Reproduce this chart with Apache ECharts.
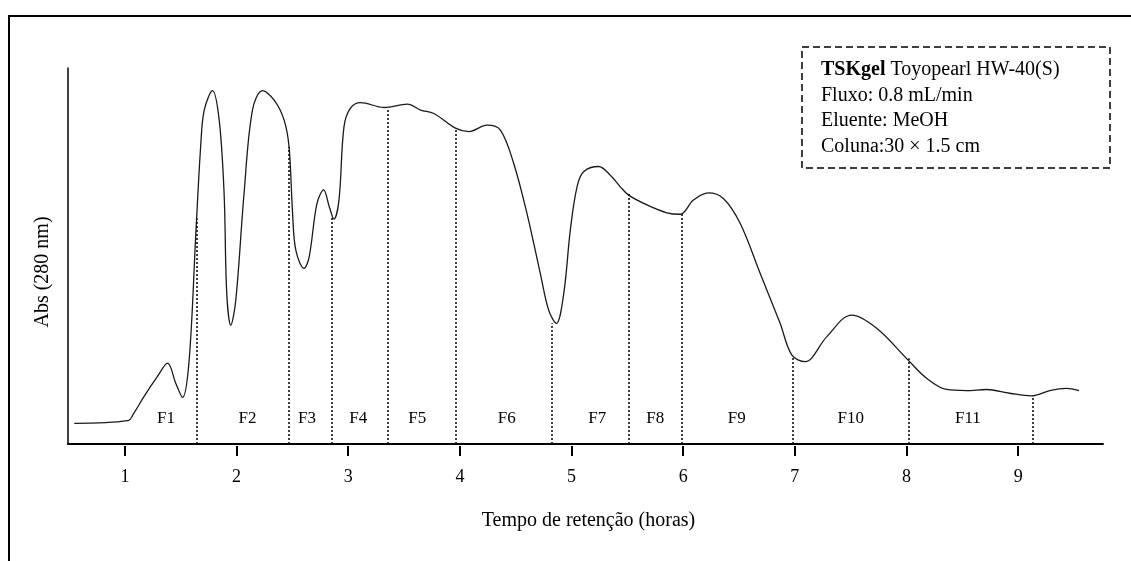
<!DOCTYPE html>
<html>
<head>
<meta charset="utf-8">
<script src="https://cdn.jsdelivr.net/npm/echarts@6/dist/echarts.min.js"></script>
<style>html,body{margin:0;padding:0;background:#fff}#c{width:1131px;height:561px}</style>
</head>
<body>
<div id="c"></div>
<script>
// Chromatogram trace (retention time in hours, absorbance in relative units)
const timeH = [0.546, 1.026, 1.08, 1.17, 1.29, 1.382, 1.456, 1.516, 1.575, 1.635, 1.68, 1.71, 1.784, 1.844, 1.888, 1.912, 1.948, 1.993, 2.067, 2.142, 2.232, 2.335, 2.425, 2.47, 2.5, 2.53, 2.604, 2.65, 2.72, 2.78, 2.83, 2.872, 2.917, 2.962, 3.02, 3.11, 3.32, 3.53, 3.648, 3.767, 3.96, 4.08, 4.244, 4.363, 4.482, 4.60, 4.72, 4.795, 4.864, 4.93, 4.989, 5.049, 5.108, 5.243, 5.347, 5.437, 5.511, 5.675, 5.854, 5.973, 6.092, 6.226, 6.36, 6.51, 6.689, 6.868, 6.972, 7.091, 7.285, 7.509, 7.733, 8.015, 8.18, 8.359, 8.538, 8.717, 8.925, 9.119, 9.283, 9.432, 9.545];
const absorb = [5.5, 6.2, 8.2, 12.6, 17.9, 21.5, 16.1, 12.4, 22.3, 56, 80, 88.8, 94, 86.2, 66.7, 40, 31.6, 38.3, 66.7, 88.8, 94, 91.5, 86.2, 79, 62.2, 51.6, 46.7, 49.8, 64, 67.6, 63.1, 59.8, 64.9, 84.4, 89.3, 90.8, 89.5, 90.4, 88.8, 87.9, 84, 83.1, 84.8, 83.5, 74.6, 61.4, 45.4, 35.6, 32.1, 40, 56.9, 68.4, 72.4, 73.8, 71.5, 68.4, 66.2, 63.6, 61.5, 61.1, 64.9, 66.8, 65.3, 58.7, 45.4, 32.1, 23.7, 21.9, 28.5, 34.3, 30.8, 22.3, 17.5, 14.5, 14.2, 14.5, 13.5, 12.8, 14.2, 14.8, 14.2];
// Fraction cut positions and the trace height at each cut
const cutTimes = [1.645, 2.47, 2.85, 3.35, 3.96, 4.826, 5.511, 5.988, 6.978, 8.021, 9.128];
const cutTops = [60, 79, 60.5, 89.3, 84, 32.1, 66.7, 61.4, 23.2, 22.8, 12.8];
// Fraction labels
const fracNames = ['F1','F2','F3','F4','F5','F6','F7','F8','F9','F10','F11'];
const fracTimes = [1.367, 2.097, 2.63, 3.09, 3.618, 4.42, 5.23, 5.75, 6.48, 7.5, 8.55];
const fracLabelY = 6.9;
const tickValues = [1, 2, 3, 4, 5, 6, 7, 8, 9];
const infoLines = ['Toyopearl HW-40(S)', 'Fluxo: 0.8 mL/min', 'Eluente: MeOH', 'Coluna:30 × 1.5 cm'];

const serif = "'Liberation Serif','Times New Roman',serif";
const chart = echarts.init(document.getElementById('c'), null, {renderer: 'canvas'});

const traceData = timeH.map((t, i) => [t, absorb[i]]);
const cutLines = cutTimes.map((t, i) => [{coord: [t, 0]}, {coord: [t, cutTops[i]]}]);
const fracData = fracNames.map((n, i) => ({name: n, value: [fracTimes[i], fracLabelY]}));

const option = {
  animation: false,
  backgroundColor: '#fff',
  grid: {left: 68, right: 28, top: 68, bottom: 117},
  xAxis: [{
    type: 'value', min: 0.49, max: 9.76,
    axisLine: {show: true, lineStyle: {color: '#000', width: 2}},
    axisTick: {show: false}, axisLabel: {show: false}, splitLine: {show: false},
    name: 'Tempo de retenção (horas)', nameLocation: 'middle', nameGap: 67,
    nameTextStyle: {fontFamily: serif, fontSize: 20, color: '#000', padding: [0, 0, 0, 6]}
  }, {
    type: 'value', min: 0.49, max: 9.76, position: 'bottom', offset: 2,
    axisLine: {show: false},
    axisTick: {show: true, length: 10, customValues: tickValues, lineStyle: {color: '#000', width: 2}},
    axisLabel: {show: true, customValues: tickValues, margin: 22, fontFamily: serif, fontSize: 18, color: '#000'},
    splitLine: {show: false}
  }],
  yAxis: {
    type: 'value', min: 0, max: 100,
    axisLine: {show: true, lineStyle: {color: '#000', width: 1.5}},
    axisTick: {show: false}, axisLabel: {show: false}, splitLine: {show: false}
  },
  series: [{
    type: 'line', xAxisIndex: 0, data: traceData, smooth: 0.35, showSymbol: false, clip: false,
    lineStyle: {color: '#1a1a1a', width: 1.3},
    markLine: {silent: true, symbol: 'none', label: {show: false},
      lineStyle: {color: '#000', type: [2, 2], width: 1.5}, data: cutLines}
  }, {
    type: 'scatter', xAxisIndex: 0, data: fracData, symbolSize: 0, silent: true,
    itemStyle: {color: '#000'},
    label: {show: true, position: 'inside', formatter: p => p.name, fontFamily: serif, fontSize: 17,
      color: '#000', textBorderWidth: 0, opacity: 1}
  }],
  graphic: [
    {type: 'polyline', shape: {points: [[9, 561], [9, 16], [1131, 16]]}, style: {stroke: '#000', lineWidth: 2, fill: null}},
    {type: 'text', x: 43, y: 272, rotation: Math.PI / 2, style: {text: 'Abs (280 nm)', fontFamily: serif, fontSize: 20, fill: '#000', align: 'center', verticalAlign: 'middle'}},
    {type: 'rect', shape: {x: 802, y: 47, width: 308, height: 121}, style: {fill: null, stroke: '#000', lineWidth: 1.5, lineDash: [7, 4]}},
    {type: 'text', x: 821, y: 57, style: {
      text: '{b|TSKgel} ' + infoLines[0] + '\n' + infoLines.slice(1).join('\n'),
      fontFamily: serif, fontSize: 20, fill: '#000', lineHeight: 25.5,
      rich: {b: {fontFamily: serif, fontSize: 20, fontWeight: 'bold', fill: '#000', lineHeight: 25.5}}
    }}
  ]
};
chart.setOption(option);
</script>
</body>
</html>
